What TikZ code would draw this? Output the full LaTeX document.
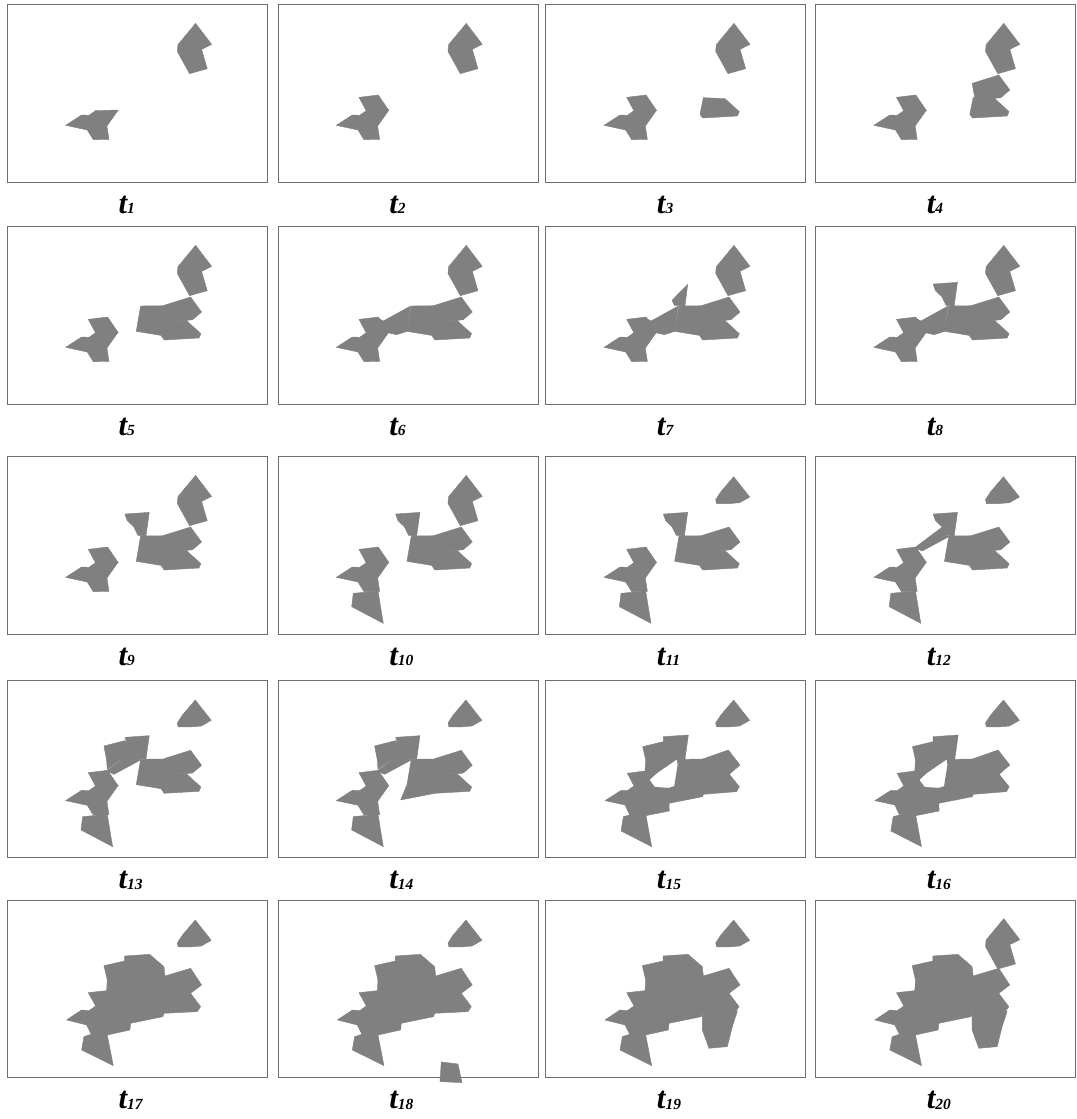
\documentclass[tikz,border=0pt]{standalone}
\usepackage{fontspec}
\setmainfont{Liberation Serif}
\usetikzlibrary{positioning,calc}
\definecolor{blobgrey}{HTML}{808080}
\definecolor{framegrey}{HTML}{6E6E6E}
\tikzset{
  panel/.style  = {draw=framegrey, line width=0.5pt, minimum width=6.5cm,
                   minimum height=4.4375cm, inner sep=0pt, outer sep=0pt,
                   anchor=north west},
  cell/.style   = {fill=blobgrey, draw=blobgrey, line width=0.3pt, line join=round},
  hole/.style   = {fill=white, draw=white, line width=0.2pt},
  cellunits/.style = {x=0.008333cm, y=-0.008333cm},
  tlabel/.style = {anchor=base west, inner sep=0pt,
                   font=\fontsize{22}{22}\selectfont\bfseries\itshape},
}
% cells, in 1/3 px from the top left corner of a panel
\newcommand{\cellA}{(565,56) -- (613,119) -- (583,134) -- (600,192) -- (547,207) -- (510,140) -- (512,120) -- cycle}
\newcommand{\cellAs}{(564,60) -- (612,121) -- (582,138) -- (548,141) -- (513,141) -- (510,129) -- (525,106) -- cycle}
\newcommand{\cellB}{(175,362) -- (223,331) -- (245,332) -- (265,318) -- (333,316) -- (299,364) -- (305,404) -- (258,405) -- (240,376) -- cycle}
\newcommand{\cellT}{(243,278) -- (301,271) -- (333,318) -- (265,319) -- cycle}
\newcommand{\cellC}{(473,279) -- (538,282) -- (581,321) -- (575,334) -- (471,340) -- (463,329) -- cycle}
\newcommand{\cellD}{(470,236) -- (550,211) -- (583,256) -- (556,279) -- (540,281) -- (478,281) -- cycle}
\newcommand{\cellE}{(400,238) -- (472,237) -- (480,300) -- (466,327) -- (387,314) -- cycle}
\newcommand{\cellF}{(298,273) -- (316,283) -- (398,238) -- (387,314) -- (381,316) -- (356,324) -- (333,319) -- cycle}
\newcommand{\cellG}{(379,221) -- (426,173) -- (418,238) -- (386,236) -- cycle}
\newcommand{\cellGg}{(353,172) -- (426,167) -- (416,238) -- (392,236) -- (379,210) -- (360,192) -- cycle}
\newcommand{\cellH}{(221,450) -- (226,410) -- (300,403) -- (316,500) -- cycle}
\newcommand{\cellK}{(298,273) -- (379,212) -- (392,236) -- (400,240) -- (320,283) -- cycle}
\newcommand{\cellJ}{(290,198) -- (353,182) -- (360,192) -- (379,212) -- (300,268) -- (298,240) -- cycle}
\newcommand{\cellN}{(387,314) -- (466,327) -- (471,340) -- (368,360) -- cycle}
\newcommand{\cellP}{(490,486) -- (540,492) -- (552,548) -- (486,545) -- cycle}
\newcommand{\cellQ}{(470,340) -- (575,334) -- (560,380) -- (545,440) -- (490,445) -- (470,390) -- cycle}
\newcommand{\cellBig}{(178,360) -- (223,330) -- (245,332) -- (265,318) -- (243,278) -- (298,272) -- (300,240) -- (290,197) -- (352,183) -- (352,168) -- (427,163) -- (470,200) -- (473,228) -- (550,205) -- (583,255) -- (550,280) -- (580,320) -- (570,335) -- (470,340) -- (467,350) -- (370,370) -- (368,390) -- (300,405) -- (318,497) -- (223,450) -- (230,410) -- (252,403) -- (238,375) -- cycle}
\newcommand{\cellBigh}{(178,362) -- (225,332) -- (245,332) -- (265,318) -- (245,280) -- (298,273) -- (300,240) -- (291,200) -- (353,185) -- (353,170) -- (428,165) -- (418,238) -- (471,237) -- (548,210) -- (583,255) -- (551,283) -- (581,320) -- (573,335) -- (473,343) -- (471,350) -- (370,370) -- (371,393) -- (301,407) -- (318,500) -- (226,453) -- (233,410) -- (252,405) -- (238,375) -- cycle}
\newcommand{\cellHole}{(313,300) -- (335,280) -- (393,240) -- (395,255) -- (385,318) -- (368,323) -- (328,320) -- cycle}
% fill the listed cells inside one panel
\newcommand{\cellsin}[2]{%
  \begin{scope}[shift={(#1.north west)}, cellunits]
    \foreach \c in {#2} {\fill[cell] \c;}
  \end{scope}}

\begin{document}
\begin{tikzpicture}

  \useasboundingbox (0,0) rectangle (26.9,-27.975);

  % ---------- panels and their labels -------------------------------------
  \foreach \n/\x/\y in {1/0.1825/-0.1175, 2/6.95/-0.1175, 3/13.6425/-0.1175, 4/20.3875/-0.1175,
                        5/0.1825/-5.6675, 6/6.95/-5.6675, 7/13.6425/-5.6675, 8/20.3875/-5.6675,
                        9/0.1825/-11.4175, 10/6.95/-11.4175, 11/13.6425/-11.4175, 12/20.3875/-11.4175,
                        13/0.1825/-17.0, 14/6.95/-17.0, 15/13.6425/-17.0, 16/20.3875/-17.0,
                        17/0.1825/-22.5, 18/6.95/-22.5, 19/13.6425/-22.5, 20/20.3875/-22.5} {
    \node[panel] (p\n) at (\x,\y) {};
    \node[tlabel] (l\n) at ([xshift=2.775cm, yshift=-0.775cm]p\n.south west)
      {t\raisebox{-0.5pt}{\fontsize{11}{11}\selectfont\n}};
  }

  % ---------- row 1 -------------------------------------------------------
  \cellsin{p1}{\cellA, \cellB}
  \cellsin{p2}{\cellA, \cellB, \cellT}
  \cellsin{p3}{\cellA, \cellB, \cellT, \cellC}
  \cellsin{p4}{\cellA, \cellB, \cellT, \cellC, \cellD}

  % ---------- row 2 -------------------------------------------------------
  \cellsin{p5}{\cellA, \cellB, \cellT, \cellC, \cellD, \cellE}
  \cellsin{p6}{\cellA, \cellB, \cellT, \cellC, \cellD, \cellE, \cellF}
  \cellsin{p7}{\cellA, \cellB, \cellT, \cellC, \cellD, \cellE, \cellF, \cellG}
  \cellsin{p8}{\cellA, \cellB, \cellT, \cellC, \cellD, \cellE, \cellF, \cellGg}

  % ---------- row 3 -------------------------------------------------------
  \cellsin{p9}{\cellA, \cellB, \cellT, \cellC, \cellD, \cellE, \cellGg}
  \cellsin{p10}{\cellA, \cellB, \cellT, \cellC, \cellD, \cellE, \cellGg, \cellH}
  \cellsin{p11}{\cellAs, \cellB, \cellT, \cellC, \cellD, \cellE, \cellGg, \cellH}
  \cellsin{p12}{\cellAs, \cellB, \cellT, \cellC, \cellD, \cellE, \cellGg, \cellH, \cellK}

  % ---------- row 4 -------------------------------------------------------
  \cellsin{p13}{\cellAs, \cellB, \cellT, \cellC, \cellD, \cellE, \cellGg, \cellH, \cellK, \cellJ}
  \cellsin{p14}{\cellAs, \cellB, \cellT, \cellC, \cellD, \cellE, \cellGg, \cellH, \cellK, \cellJ, \cellN}
  \cellsin{p15}{\cellAs, \cellBigh}
  \cellsin{p16}{\cellAs, \cellBigh}
  \foreach \n in {15,16} {
    \fill[hole, shift={(p\n.north west)}, cellunits] \cellHole;
  }

  % ---------- row 5 -------------------------------------------------------
  \cellsin{p17}{\cellAs, \cellBig}
  \cellsin{p18}{\cellAs, \cellBig, \cellP}
  \cellsin{p19}{\cellAs, \cellBig, \cellQ}
  \cellsin{p20}{\cellA, \cellBig, \cellQ}

\end{tikzpicture}
\end{document}
